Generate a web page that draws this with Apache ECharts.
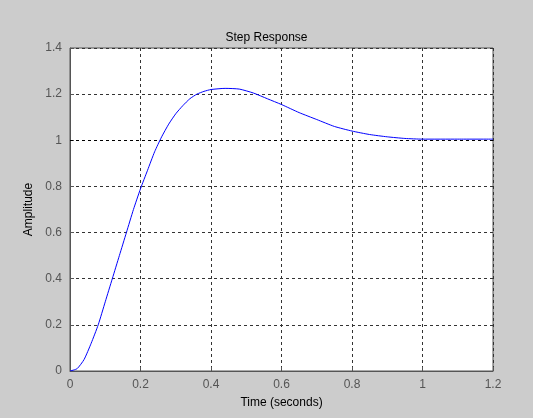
<!DOCTYPE html><html><head><meta charset="utf-8"><script src="https://cdn.jsdelivr.net/npm/echarts@6/dist/echarts.min.js"></script>
<style>body{margin:0;background:#cccccc}#c{width:533px;height:418px}</style></head><body><div id="c"></div><script>
const times=[0,0.02,0.04,0.06,0.08,0.1,0.12,0.14,0.16,0.18,0.2,0.22,0.24,0.26,0.28,0.3,0.32,0.34,0.36,0.38,0.4,0.44,0.48,0.52,0.56,0.6,0.65,0.7,0.75,0.8,0.85,0.9,0.95,1.0,1.1,1.2];
const amplitude=[0,0.01,0.05,0.12,0.2,0.3,0.4,0.5,0.6,0.7,0.79,0.87,0.95,1.015,1.07,1.115,1.15,1.18,1.2,1.212,1.22,1.225,1.222,1.205,1.18,1.155,1.12,1.09,1.06,1.04,1.025,1.015,1.008,1.005,1.005,1.005];
const c=echarts.init(document.getElementById('c'));
const gl={show:true,lineStyle:{color:'#333',type:[3,3],width:1}};
const lbl={color:'#555',fontSize:12,fontFamily:'Arial, Liberation Sans'};
c.setOption({backgroundColor:'#cccccc',animation:false,
title:{text:'Step Response',left:'center',top:27,textStyle:{fontSize:12,fontWeight:'normal',color:'#000',fontFamily:'Arial, Liberation Sans'}},
grid:{left:70,right:40,top:48,bottom:47,backgroundColor:'#fff',show:true,borderColor:'#555',borderWidth:1},
xAxis:{type:'value',min:0,max:1.2,interval:0.2,name:'Time (seconds)',nameLocation:'middle',nameGap:26,nameTextStyle:{color:'#000',fontSize:12,fontFamily:'Arial, Liberation Sans'},axisLine:{lineStyle:{color:'#555'}},axisTick:{inside:true,length:4,lineStyle:{color:'#555'}},axisLabel:lbl,splitLine:gl},
yAxis:{type:'value',min:0,max:1.4,interval:0.2,name:'Amplitude',nameLocation:'middle',nameGap:33,nameTextStyle:{color:'#000',fontSize:12,fontFamily:'Arial, Liberation Sans'},axisLine:{show:true,lineStyle:{color:'#555'}},axisTick:{show:true,inside:true,length:4,lineStyle:{color:'#555'}},axisLabel:lbl,splitLine:gl},
series:[{type:'line',data:times.map((t,i)=>[t,amplitude[i]]),smooth:0.2,showSymbol:false,lineStyle:{color:'#0000ff',width:1},
markLine:{silent:true,symbol:'none',label:{show:false},lineStyle:{color:'#000',type:[3,3],width:1},data:[{yAxis:1}]}}]});
</script></body></html>
